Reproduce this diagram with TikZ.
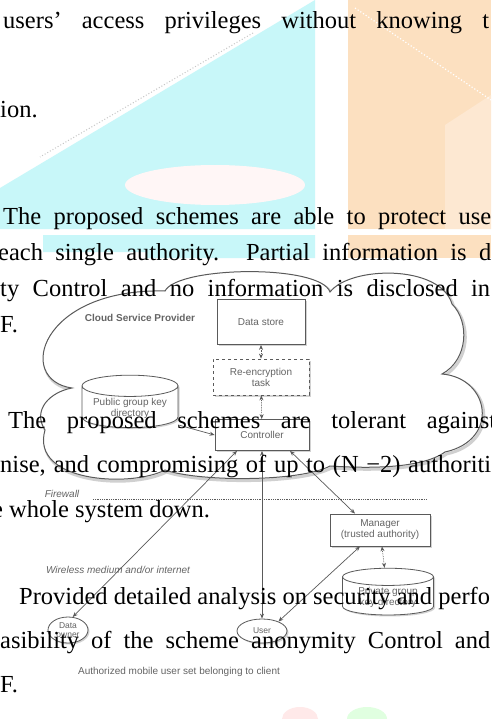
\documentclass[tikz,border=0pt]{standalone}
\usepackage{fontspec}
\setmainfont{Liberation Serif}
\newfontfamily\diagfont{Liberation Sans}
\usetikzlibrary{arrows.meta,shapes.geometric,shadows}
\definecolor{wmcyan}{RGB}{200,247,249}
\definecolor{wmorange}{RGB}{252,224,192}
\definecolor{wmorangelt}{RGB}{253,232,210}
\definecolor{dline}{RGB}{90,90,90}
\definecolor{dtext}{RGB}{100,100,100}
\newcommand\bodyfont{\fontsize{24.5}{29}\selectfont}
\newcommand\dfont{\diagfont\fontsize{10}{11}\selectfont}
\newcommand\sfont{\diagfont\fontsize{8.5}{9}\selectfont}
\begin{document}
\begin{tikzpicture}[x=1pt,y=-1pt,
  body/.style={anchor=base west, inner sep=0pt, font=\bodyfont, text=black},
  shad/.style={drop shadow={shadow xshift=1.5pt, shadow yshift=-1.5pt, opacity=0.35}},
  dbox/.style={draw=dline, line width=0.8pt, fill=white, align=center, font=\dfont, text=dtext, inner sep=2pt, shad},
  cyl/.style={cylinder, shape border rotate=90, aspect=0.28, draw=dline, line width=0.8pt, fill=white, align=center, font=\dfont, text=dtext, inner sep=1pt, shad},
  oval/.style={ellipse, draw=dline, line width=0.8pt, fill=white, align=center, font=\sfont, text=dtext, inner sep=0pt, shad},
  dlabel/.style={inner sep=0pt, font=\dfont, text=dtext},
  arr/.style={draw=dline, line width=0.7pt, -{Stealth[length=5pt,width=4pt]}},
  darr/.style={draw=dline, line width=0.7pt, {Stealth[length=5pt,width=4pt]}-{Stealth[length=5pt,width=4pt]}},
  dotarr/.style={darr, densely dotted}
]
\useasboundingbox (0,0) rectangle (491,719);
\fill[white] (0,0) rectangle (491,719);

% watermark shapes
\fill[wmcyan] (315,0) -- (0,188) -- (0,229) -- (315,229) -- cycle;
\fill[wmcyan] (43,235) -- (315,235) -- (315,258) -- (147,258) -- (147,252) -- (43,252) -- cycle;
\fill[wmorange] (348,0) -- (491,0) -- (491,229) -- (348,229) -- cycle;
\fill[wmorange] (348,235) -- (491,235) -- (491,258) -- (348,258) -- cycle;
\fill[wmorangelt] (491,95) -- (445,125) -- (445,229) -- (491,229) -- cycle;
\fill[white!85!pink] (215,185) ellipse (90pt and 20pt);
\draw[gray!45, dotted, line width=1pt] (253,33) -- (40,157);
\draw[white, dotted, line width=1.2pt] (355,8) -- (491,100);
\fill[pink!35] (300,719) ellipse (18pt and 12pt);
\fill[green!12] (367,719) ellipse (20pt and 12pt);

% cloud (shadow, then outline)
\draw[black!30, line width=3pt, opacity=0.6, shift={(1.5,2)}]
  (72,388) .. controls (15,380) and (40,288) .. (165,291)
  .. controls (178,266) and (320,264) .. (330,292)
  .. controls (350,266) and (440,264) .. (452,304)
  .. controls (470,322) and (468,360) .. (442,374)
  .. controls (490,378) and (500,440) .. (445,452)
  .. controls (420,470) and (360,468) .. (330,466)
  .. controls (300,482) and (200,482) .. (165,470)
  .. controls (130,488) and (30,482) .. (45,430)
  .. controls (32,410) and (50,392) .. (72,388) -- cycle;
\draw[dline, line width=1pt, fill=white]
  (72,388) .. controls (15,380) and (40,288) .. (165,291)
  .. controls (178,266) and (320,264) .. (330,292)
  .. controls (350,266) and (440,264) .. (452,304)
  .. controls (470,322) and (468,360) .. (442,374)
  .. controls (490,378) and (500,440) .. (445,452)
  .. controls (420,470) and (360,468) .. (330,466)
  .. controls (300,482) and (200,482) .. (165,470)
  .. controls (130,488) and (30,482) .. (45,430)
  .. controls (32,410) and (50,392) .. (72,388) -- cycle;

% diagram nodes
\node[dlabel, font=\dfont\bfseries] (csp) at (140,318) {Cloud Service Provider};
\node[dbox, minimum width=88pt, minimum height=45pt] (ds) at (261,322) {Data store};
\node[dbox, dashed, minimum width=96pt, minimum height=36pt] (re) at (261,377) {Re-encryption\\task};
\node[dbox, minimum width=94pt, minimum height=31pt] (ctrl) at (262,435) {Controller};
\node[cyl, minimum width=96pt, minimum height=45pt] (pgk) at (130,408) {Public group key\\directory};
\node[dbox, minimum width=100pt, minimum height=32pt] (mgr) at (380,530) {Manager\\(trusted authority)};
\node[cyl, minimum width=91pt, minimum height=40pt] (pvk) at (388,597) {Private group\\key directory};
\node[oval, minimum width=40pt, minimum height=26pt] (data) at (68,630) {Data\\owner};
\node[oval, minimum width=50pt, minimum height=24pt] (user) at (262,631) {User};
\coordinate (fwa) at (93,499);
\coordinate (fwb) at (427,499);
\node[dlabel, font=\dfont\itshape, anchor=base] (fw) at (62,497) {Firewall};
\node[dlabel, font=\dfont\itshape] (wl) at (118,570) {Wireless medium and/or internet};
\node[dlabel] (au) at (179,672) {Authorized mobile user set belonging to client};

% connectors
\draw[dotarr] (ds) -- (re);
\draw[dotarr] (re) -- (ctrl);
\draw[arr] ([yshift=-17pt]pgk.east) -- (ctrl.west);
\draw[darr] ([xshift=-25pt]ctrl.south) -- (data.70);
\draw[darr] (ctrl.south) -- (user.north);
\draw[darr] ([xshift=28pt]ctrl.south) -- ([xshift=-25pt]mgr.north);
\draw[dotarr] (mgr) -- (pvk);
\draw[darr] ([xshift=-20pt]mgr.south) -- (user.30);
\draw[dline, densely dotted, line width=0.8pt] (fwa) -- (fwb);

% body text
\node[body] (t1) at (3,29) {\makebox[486pt][s]{users’ access privileges without knowing t}};
\node[body] (t2) at (0,118) {ion.};
\node[body] (t3) at (3,224) {\makebox[488pt][s]{The proposed schemes are able to protect use}};
\node[body] (t4) at (-2,260) {\makebox[493pt][s]{each single authority. Partial information is d}};
\node[body] (t5) at (0,296) {\makebox[490pt][s]{ty Control and no information is disclosed in}};
\node[body] (t6) at (0,332) {F.};
\node[body] (t7) at (8,428) {\makebox[488pt][s]{The proposed schemes are tolerant against}};
\node[body] (t8) at (0,472) {\makebox[491pt][s]{nise, and compromising of up to (N −2) authoriti}};
\node[body] (t9) at (-8,517) {e whole system down.};
\node[body] (t10) at (19,604) {Provided detailed analysis on security and perfo};
\node[body] (t11) at (0,648) {\makebox[490pt][s]{asibility of the scheme anonymity Control and}};
\node[body] (t12) at (0,692) {F.};
\end{tikzpicture}
\end{document}
